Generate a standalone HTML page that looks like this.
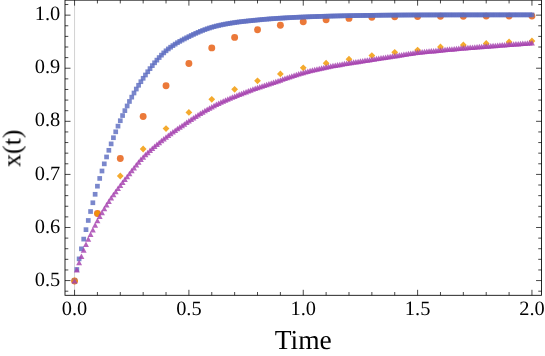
<!DOCTYPE html>
<html>
<head>
<meta charset="utf-8">
<title>x(t) vs Time</title>
<style>
html,body{margin:0;padding:0;background:#ffffff;}
body{width:545px;height:356px;overflow:hidden;position:relative;font-family:"Liberation Serif",serif;}
</style>
</head>
<body>
<svg width="545" height="356" viewBox="0 0 545 356" style="position:absolute;left:0;top:0;display:block">
<rect x="0" y="0" width="545" height="356" fill="#ffffff"/>
<line x1="74.55" y1="0.15" x2="74.55" y2="295.3" stroke="#d2d2d2" stroke-width="1"/>
<g fill="#e65c0e" fill-opacity="0.82"><circle cx="74.55" cy="281" r="3.45"/><circle cx="97.42" cy="213.5" r="3.45"/><circle cx="120.29" cy="158.5" r="3.45"/><circle cx="143.16" cy="116.5" r="3.45"/><circle cx="166.03" cy="85.7" r="3.45"/><circle cx="188.9" cy="63.5" r="3.45"/><circle cx="211.77" cy="47.9" r="3.45"/><circle cx="234.64" cy="37.4" r="3.45"/><circle cx="257.51" cy="29.8" r="3.45"/><circle cx="280.38" cy="25.3" r="3.45"/><circle cx="303.25" cy="21.7" r="3.45"/><circle cx="326.12" cy="19.8" r="3.45"/><circle cx="348.99" cy="18.4" r="3.45"/><circle cx="371.86" cy="17.3" r="3.45"/><circle cx="394.73" cy="16.8" r="3.45"/><circle cx="417.6" cy="16.5" r="3.45"/><circle cx="440.47" cy="16.3" r="3.45"/><circle cx="463.34" cy="16.2" r="3.45"/><circle cx="486.21" cy="16.1" r="3.45"/><circle cx="509.08" cy="16.1" r="3.45"/><circle cx="531.95" cy="16.1" r="3.45"/></g>
<g fill="#5d6dc1" fill-opacity="0.82"><rect x="72.2" y="278.65" width="4.7" height="4.7"/><rect x="74.49" y="267.13" width="4.7" height="4.7"/><rect x="76.77" y="256.53" width="4.7" height="4.7"/><rect x="79.06" y="246.47" width="4.7" height="4.7"/><rect x="81.35" y="236.75" width="4.7" height="4.7"/><rect x="83.64" y="227.3" width="4.7" height="4.7"/><rect x="85.92" y="218.12" width="4.7" height="4.7"/><rect x="88.21" y="209.16" width="4.7" height="4.7"/><rect x="90.5" y="200.41" width="4.7" height="4.7"/><rect x="92.78" y="191.95" width="4.7" height="4.7"/><rect x="95.07" y="183.84" width="4.7" height="4.7"/><rect x="97.36" y="176.09" width="4.7" height="4.7"/><rect x="99.64" y="168.65" width="4.7" height="4.7"/><rect x="101.93" y="161.5" width="4.7" height="4.7"/><rect x="104.22" y="154.61" width="4.7" height="4.7"/><rect x="106.5" y="147.96" width="4.7" height="4.7"/><rect x="108.79" y="141.54" width="4.7" height="4.7"/><rect x="111.08" y="135.37" width="4.7" height="4.7"/><rect x="113.37" y="129.45" width="4.7" height="4.7"/><rect x="115.65" y="123.78" width="4.7" height="4.7"/><rect x="117.94" y="118.36" width="4.7" height="4.7"/><rect x="120.23" y="113.2" width="4.7" height="4.7"/><rect x="122.51" y="108.29" width="4.7" height="4.7"/><rect x="124.8" y="103.61" width="4.7" height="4.7"/><rect x="127.09" y="99.12" width="4.7" height="4.7"/><rect x="129.38" y="94.8" width="4.7" height="4.7"/><rect x="131.66" y="90.65" width="4.7" height="4.7"/><rect x="133.95" y="86.69" width="4.7" height="4.7"/><rect x="136.24" y="82.93" width="4.7" height="4.7"/><rect x="138.52" y="79.35" width="4.7" height="4.7"/><rect x="140.81" y="75.94" width="4.7" height="4.7"/><rect x="143.1" y="72.64" width="4.7" height="4.7"/><rect x="145.38" y="69.4" width="4.7" height="4.7"/><rect x="147.67" y="66.27" width="4.7" height="4.7"/><rect x="149.96" y="63.27" width="4.7" height="4.7"/><rect x="152.24" y="60.45" width="4.7" height="4.7"/><rect x="154.53" y="57.78" width="4.7" height="4.7"/><rect x="156.82" y="55.22" width="4.7" height="4.7"/><rect x="159.11" y="52.8" width="4.7" height="4.7"/><rect x="161.39" y="50.54" width="4.7" height="4.7"/><rect x="163.68" y="48.46" width="4.7" height="4.7"/><rect x="165.97" y="46.58" width="4.7" height="4.7"/><rect x="168.25" y="44.86" width="4.7" height="4.7"/><rect x="170.54" y="43.27" width="4.7" height="4.7"/><rect x="172.83" y="41.78" width="4.7" height="4.7"/><rect x="175.11" y="40.35" width="4.7" height="4.7"/><rect x="177.4" y="39.01" width="4.7" height="4.7"/><rect x="179.69" y="37.76" width="4.7" height="4.7"/><rect x="181.98" y="36.58" width="4.7" height="4.7"/><rect x="184.26" y="35.43" width="4.7" height="4.7"/><rect x="186.55" y="34.28" width="4.7" height="4.7"/><rect x="188.84" y="33.14" width="4.7" height="4.7"/><rect x="191.12" y="32.05" width="4.7" height="4.7"/><rect x="193.41" y="30.99" width="4.7" height="4.7"/><rect x="195.7" y="29.98" width="4.7" height="4.7"/><rect x="197.99" y="29.01" width="4.7" height="4.7"/><rect x="200.27" y="28.1" width="4.7" height="4.7"/><rect x="202.56" y="27.23" width="4.7" height="4.7"/><rect x="204.85" y="26.41" width="4.7" height="4.7"/><rect x="207.13" y="25.65" width="4.7" height="4.7"/><rect x="209.42" y="24.94" width="4.7" height="4.7"/><rect x="211.71" y="24.29" width="4.7" height="4.7"/><rect x="213.99" y="23.7" width="4.7" height="4.7"/><rect x="216.28" y="23.15" width="4.7" height="4.7"/><rect x="218.57" y="22.64" width="4.7" height="4.7"/><rect x="220.85" y="22.17" width="4.7" height="4.7"/><rect x="223.14" y="21.73" width="4.7" height="4.7"/><rect x="225.43" y="21.32" width="4.7" height="4.7"/><rect x="227.72" y="20.93" width="4.7" height="4.7"/><rect x="230" y="20.57" width="4.7" height="4.7"/><rect x="232.29" y="20.21" width="4.7" height="4.7"/><rect x="234.58" y="19.88" width="4.7" height="4.7"/><rect x="236.86" y="19.58" width="4.7" height="4.7"/><rect x="239.15" y="19.3" width="4.7" height="4.7"/><rect x="241.44" y="19.04" width="4.7" height="4.7"/><rect x="243.72" y="18.79" width="4.7" height="4.7"/><rect x="246.01" y="18.55" width="4.7" height="4.7"/><rect x="248.3" y="18.32" width="4.7" height="4.7"/><rect x="250.59" y="18.1" width="4.7" height="4.7"/><rect x="252.87" y="17.87" width="4.7" height="4.7"/><rect x="255.16" y="17.64" width="4.7" height="4.7"/><rect x="257.45" y="17.42" width="4.7" height="4.7"/><rect x="259.73" y="17.2" width="4.7" height="4.7"/><rect x="262.02" y="17" width="4.7" height="4.7"/><rect x="264.31" y="16.8" width="4.7" height="4.7"/><rect x="266.59" y="16.62" width="4.7" height="4.7"/><rect x="268.88" y="16.44" width="4.7" height="4.7"/><rect x="271.17" y="16.28" width="4.7" height="4.7"/><rect x="273.46" y="16.12" width="4.7" height="4.7"/><rect x="275.74" y="15.97" width="4.7" height="4.7"/><rect x="278.03" y="15.83" width="4.7" height="4.7"/><rect x="280.32" y="15.7" width="4.7" height="4.7"/><rect x="282.6" y="15.56" width="4.7" height="4.7"/><rect x="284.89" y="15.43" width="4.7" height="4.7"/><rect x="287.18" y="15.31" width="4.7" height="4.7"/><rect x="289.46" y="15.19" width="4.7" height="4.7"/><rect x="291.75" y="15.07" width="4.7" height="4.7"/><rect x="294.04" y="14.96" width="4.7" height="4.7"/><rect x="296.33" y="14.86" width="4.7" height="4.7"/><rect x="298.61" y="14.76" width="4.7" height="4.7"/><rect x="300.9" y="14.66" width="4.7" height="4.7"/><rect x="303.19" y="14.57" width="4.7" height="4.7"/><rect x="305.47" y="14.48" width="4.7" height="4.7"/><rect x="307.76" y="14.39" width="4.7" height="4.7"/><rect x="310.05" y="14.31" width="4.7" height="4.7"/><rect x="312.33" y="14.23" width="4.7" height="4.7"/><rect x="314.62" y="14.16" width="4.7" height="4.7"/><rect x="316.91" y="14.08" width="4.7" height="4.7"/><rect x="319.2" y="14.01" width="4.7" height="4.7"/><rect x="321.48" y="13.94" width="4.7" height="4.7"/><rect x="323.77" y="13.88" width="4.7" height="4.7"/><rect x="326.06" y="13.81" width="4.7" height="4.7"/><rect x="328.34" y="13.75" width="4.7" height="4.7"/><rect x="330.63" y="13.69" width="4.7" height="4.7"/><rect x="332.92" y="13.64" width="4.7" height="4.7"/><rect x="335.2" y="13.58" width="4.7" height="4.7"/><rect x="337.49" y="13.53" width="4.7" height="4.7"/><rect x="339.78" y="13.48" width="4.7" height="4.7"/><rect x="342.07" y="13.43" width="4.7" height="4.7"/><rect x="344.35" y="13.39" width="4.7" height="4.7"/><rect x="346.64" y="13.35" width="4.7" height="4.7"/><rect x="348.93" y="13.31" width="4.7" height="4.7"/><rect x="351.21" y="13.27" width="4.7" height="4.7"/><rect x="353.5" y="13.23" width="4.7" height="4.7"/><rect x="355.79" y="13.19" width="4.7" height="4.7"/><rect x="358.07" y="13.16" width="4.7" height="4.7"/><rect x="360.36" y="13.12" width="4.7" height="4.7"/><rect x="362.65" y="13.09" width="4.7" height="4.7"/><rect x="364.94" y="13.06" width="4.7" height="4.7"/><rect x="367.22" y="13.02" width="4.7" height="4.7"/><rect x="369.51" y="12.99" width="4.7" height="4.7"/><rect x="371.8" y="12.96" width="4.7" height="4.7"/><rect x="374.08" y="12.93" width="4.7" height="4.7"/><rect x="376.37" y="12.91" width="4.7" height="4.7"/><rect x="378.66" y="12.88" width="4.7" height="4.7"/><rect x="380.94" y="12.85" width="4.7" height="4.7"/><rect x="383.23" y="12.83" width="4.7" height="4.7"/><rect x="385.52" y="12.81" width="4.7" height="4.7"/><rect x="387.81" y="12.78" width="4.7" height="4.7"/><rect x="390.09" y="12.76" width="4.7" height="4.7"/><rect x="392.38" y="12.74" width="4.7" height="4.7"/><rect x="394.67" y="12.72" width="4.7" height="4.7"/><rect x="396.95" y="12.71" width="4.7" height="4.7"/><rect x="399.24" y="12.69" width="4.7" height="4.7"/><rect x="401.53" y="12.67" width="4.7" height="4.7"/><rect x="403.81" y="12.66" width="4.7" height="4.7"/><rect x="406.1" y="12.65" width="4.7" height="4.7"/><rect x="408.39" y="12.64" width="4.7" height="4.7"/><rect x="410.68" y="12.63" width="4.7" height="4.7"/><rect x="412.96" y="12.62" width="4.7" height="4.7"/><rect x="415.25" y="12.61" width="4.7" height="4.7"/><rect x="417.54" y="12.61" width="4.7" height="4.7"/><rect x="419.82" y="12.6" width="4.7" height="4.7"/><rect x="422.11" y="12.6" width="4.7" height="4.7"/><rect x="424.4" y="12.59" width="4.7" height="4.7"/><rect x="426.69" y="12.59" width="4.7" height="4.7"/><rect x="428.97" y="12.58" width="4.7" height="4.7"/><rect x="431.26" y="12.58" width="4.7" height="4.7"/><rect x="433.55" y="12.57" width="4.7" height="4.7"/><rect x="435.83" y="12.57" width="4.7" height="4.7"/><rect x="438.12" y="12.57" width="4.7" height="4.7"/><rect x="440.41" y="12.56" width="4.7" height="4.7"/><rect x="442.69" y="12.56" width="4.7" height="4.7"/><rect x="444.98" y="12.56" width="4.7" height="4.7"/><rect x="447.27" y="12.55" width="4.7" height="4.7"/><rect x="449.55" y="12.55" width="4.7" height="4.7"/><rect x="451.84" y="12.55" width="4.7" height="4.7"/><rect x="454.13" y="12.55" width="4.7" height="4.7"/><rect x="456.42" y="12.54" width="4.7" height="4.7"/><rect x="458.7" y="12.54" width="4.7" height="4.7"/><rect x="460.99" y="12.54" width="4.7" height="4.7"/><rect x="463.28" y="12.54" width="4.7" height="4.7"/><rect x="465.56" y="12.54" width="4.7" height="4.7"/><rect x="467.85" y="12.53" width="4.7" height="4.7"/><rect x="470.14" y="12.53" width="4.7" height="4.7"/><rect x="472.42" y="12.53" width="4.7" height="4.7"/><rect x="474.71" y="12.53" width="4.7" height="4.7"/><rect x="477" y="12.53" width="4.7" height="4.7"/><rect x="479.29" y="12.53" width="4.7" height="4.7"/><rect x="481.57" y="12.52" width="4.7" height="4.7"/><rect x="483.86" y="12.52" width="4.7" height="4.7"/><rect x="486.15" y="12.52" width="4.7" height="4.7"/><rect x="488.43" y="12.52" width="4.7" height="4.7"/><rect x="490.72" y="12.52" width="4.7" height="4.7"/><rect x="493.01" y="12.52" width="4.7" height="4.7"/><rect x="495.3" y="12.52" width="4.7" height="4.7"/><rect x="497.58" y="12.52" width="4.7" height="4.7"/><rect x="499.87" y="12.52" width="4.7" height="4.7"/><rect x="502.16" y="12.51" width="4.7" height="4.7"/><rect x="504.44" y="12.51" width="4.7" height="4.7"/><rect x="506.73" y="12.51" width="4.7" height="4.7"/><rect x="509.02" y="12.51" width="4.7" height="4.7"/><rect x="511.3" y="12.51" width="4.7" height="4.7"/><rect x="513.59" y="12.51" width="4.7" height="4.7"/><rect x="515.88" y="12.51" width="4.7" height="4.7"/><rect x="518.16" y="12.51" width="4.7" height="4.7"/><rect x="520.45" y="12.51" width="4.7" height="4.7"/><rect x="522.74" y="12.51" width="4.7" height="4.7"/><rect x="525.03" y="12.51" width="4.7" height="4.7"/><rect x="527.31" y="12.51" width="4.7" height="4.7"/><rect x="529.6" y="12.51" width="4.7" height="4.7"/></g>
<path fill="#f19700" fill-opacity="0.82" d="M74.55 277.6l3.4 3.4l-3.4 3.4l-3.4 -3.4zM97.42 210.1l3.4 3.4l-3.4 3.4l-3.4 -3.4zM120.29 172.6l3.4 3.4l-3.4 3.4l-3.4 -3.4zM143.16 145.6l3.4 3.4l-3.4 3.4l-3.4 -3.4zM166.03 125.2l3.4 3.4l-3.4 3.4l-3.4 -3.4zM188.9 109l3.4 3.4l-3.4 3.4l-3.4 -3.4zM211.77 95.9l3.4 3.4l-3.4 3.4l-3.4 -3.4zM234.64 85.9l3.4 3.4l-3.4 3.4l-3.4 -3.4zM257.51 77.4l3.4 3.4l-3.4 3.4l-3.4 -3.4zM280.38 70.5l3.4 3.4l-3.4 3.4l-3.4 -3.4zM303.25 64.46l3.4 3.4l-3.4 3.4l-3.4 -3.4zM326.12 59.8l3.4 3.4l-3.4 3.4l-3.4 -3.4zM348.99 55.8l3.4 3.4l-3.4 3.4l-3.4 -3.4zM371.86 52.2l3.4 3.4l-3.4 3.4l-3.4 -3.4zM394.73 48.9l3.4 3.4l-3.4 3.4l-3.4 -3.4zM417.6 46.7l3.4 3.4l-3.4 3.4l-3.4 -3.4zM440.47 43.6l3.4 3.4l-3.4 3.4l-3.4 -3.4zM463.34 41.6l3.4 3.4l-3.4 3.4l-3.4 -3.4zM486.21 40l3.4 3.4l-3.4 3.4l-3.4 -3.4zM509.08 38.5l3.4 3.4l-3.4 3.4l-3.4 -3.4zM531.95 37.6l3.4 3.4l-3.4 3.4l-3.4 -3.4z"/>
<g fill="#a541af" fill-opacity="0.82"><path d="M74.55 278l2.95 5.5h-5.9z"/><path d="M76.84 267.1l2.95 5.5h-5.9z"/><path d="M79.12 259.8l2.95 5.5h-5.9z"/><path d="M81.41 253.4l2.95 5.5h-5.9z"/><path d="M83.7 247.2l2.95 5.5h-5.9z"/><path d="M85.98 241.6l2.95 5.5h-5.9z"/><path d="M88.27 236.3l2.95 5.5h-5.9z"/><path d="M90.56 231.6l2.95 5.5h-5.9z"/><path d="M92.85 227l2.95 5.5h-5.9z"/><path d="M95.13 222.2l2.95 5.5h-5.9z"/><path d="M97.42 217.7l2.95 5.5h-5.9z"/><path d="M99.71 213.5l2.95 5.5h-5.9z"/><path d="M101.99 209.72l2.95 5.5h-5.9z"/><path d="M104.28 205.84l2.95 5.5h-5.9z"/><path d="M106.57 201.96l2.95 5.5h-5.9z"/><path d="M108.85 198.39l2.95 5.5h-5.9z"/><path d="M111.14 195.06l2.95 5.5h-5.9z"/><path d="M113.43 191.83l2.95 5.5h-5.9z"/><path d="M115.72 188.7l2.95 5.5h-5.9z"/><path d="M118 185.61l2.95 5.5h-5.9z"/><path d="M120.29 182.55l2.95 5.5h-5.9z"/><path d="M122.58 179.52l2.95 5.5h-5.9z"/><path d="M124.86 176.55l2.95 5.5h-5.9z"/><path d="M127.15 173.64l2.95 5.5h-5.9z"/><path d="M129.44 170.74l2.95 5.5h-5.9z"/><path d="M131.72 167.81l2.95 5.5h-5.9z"/><path d="M134.01 164.89l2.95 5.5h-5.9z"/><path d="M136.3 162.02l2.95 5.5h-5.9z"/><path d="M138.59 159.25l2.95 5.5h-5.9z"/><path d="M140.87 156.61l2.95 5.5h-5.9z"/><path d="M143.16 154.15l2.95 5.5h-5.9z"/><path d="M145.45 151.84l2.95 5.5h-5.9z"/><path d="M147.73 149.63l2.95 5.5h-5.9z"/><path d="M150.02 147.5l2.95 5.5h-5.9z"/><path d="M152.31 145.44l2.95 5.5h-5.9z"/><path d="M154.59 143.45l2.95 5.5h-5.9z"/><path d="M156.88 141.52l2.95 5.5h-5.9z"/><path d="M159.17 139.63l2.95 5.5h-5.9z"/><path d="M161.46 137.79l2.95 5.5h-5.9z"/><path d="M163.74 135.98l2.95 5.5h-5.9z"/><path d="M166.03 134.19l2.95 5.5h-5.9z"/><path d="M168.32 132.43l2.95 5.5h-5.9z"/><path d="M170.6 130.72l2.95 5.5h-5.9z"/><path d="M172.89 129.04l2.95 5.5h-5.9z"/><path d="M175.18 127.41l2.95 5.5h-5.9z"/><path d="M177.46 125.8l2.95 5.5h-5.9z"/><path d="M179.75 124.23l2.95 5.5h-5.9z"/><path d="M182.04 122.67l2.95 5.5h-5.9z"/><path d="M184.33 121.13l2.95 5.5h-5.9z"/><path d="M186.61 119.61l2.95 5.5h-5.9z"/><path d="M188.9 118.1l2.95 5.5h-5.9z"/><path d="M191.19 116.59l2.95 5.5h-5.9z"/><path d="M193.47 115.08l2.95 5.5h-5.9z"/><path d="M195.76 113.57l2.95 5.5h-5.9z"/><path d="M198.05 112.09l2.95 5.5h-5.9z"/><path d="M200.34 110.62l2.95 5.5h-5.9z"/><path d="M202.62 109.19l2.95 5.5h-5.9z"/><path d="M204.91 107.79l2.95 5.5h-5.9z"/><path d="M207.2 106.44l2.95 5.5h-5.9z"/><path d="M209.48 105.13l2.95 5.5h-5.9z"/><path d="M211.77 103.89l2.95 5.5h-5.9z"/><path d="M214.06 102.71l2.95 5.5h-5.9z"/><path d="M216.34 101.56l2.95 5.5h-5.9z"/><path d="M218.63 100.44l2.95 5.5h-5.9z"/><path d="M220.92 99.36l2.95 5.5h-5.9z"/><path d="M223.2 98.31l2.95 5.5h-5.9z"/><path d="M225.49 97.28l2.95 5.5h-5.9z"/><path d="M227.78 96.28l2.95 5.5h-5.9z"/><path d="M230.07 95.3l2.95 5.5h-5.9z"/><path d="M232.35 94.33l2.95 5.5h-5.9z"/><path d="M234.64 93.38l2.95 5.5h-5.9z"/><path d="M236.93 92.44l2.95 5.5h-5.9z"/><path d="M239.21 91.52l2.95 5.5h-5.9z"/><path d="M241.5 90.63l2.95 5.5h-5.9z"/><path d="M243.79 89.75l2.95 5.5h-5.9z"/><path d="M246.07 88.88l2.95 5.5h-5.9z"/><path d="M248.36 88.03l2.95 5.5h-5.9z"/><path d="M250.65 87.2l2.95 5.5h-5.9z"/><path d="M252.94 86.37l2.95 5.5h-5.9z"/><path d="M255.22 85.56l2.95 5.5h-5.9z"/><path d="M257.51 84.75l2.95 5.5h-5.9z"/><path d="M259.8 83.95l2.95 5.5h-5.9z"/><path d="M262.08 83.17l2.95 5.5h-5.9z"/><path d="M264.37 82.4l2.95 5.5h-5.9z"/><path d="M266.66 81.64l2.95 5.5h-5.9z"/><path d="M268.94 80.89l2.95 5.5h-5.9z"/><path d="M271.23 80.14l2.95 5.5h-5.9z"/><path d="M273.52 79.4l2.95 5.5h-5.9z"/><path d="M275.81 78.65l2.95 5.5h-5.9z"/><path d="M278.09 77.9l2.95 5.5h-5.9z"/><path d="M280.38 77.14l2.95 5.5h-5.9z"/><path d="M282.67 76.37l2.95 5.5h-5.9z"/><path d="M284.95 75.59l2.95 5.5h-5.9z"/><path d="M287.24 74.81l2.95 5.5h-5.9z"/><path d="M289.53 74.02l2.95 5.5h-5.9z"/><path d="M291.81 73.24l2.95 5.5h-5.9z"/><path d="M294.1 72.47l2.95 5.5h-5.9z"/><path d="M296.39 71.72l2.95 5.5h-5.9z"/><path d="M298.68 70.99l2.95 5.5h-5.9z"/><path d="M300.96 70.3l2.95 5.5h-5.9z"/><path d="M303.25 69.65l2.95 5.5h-5.9z"/><path d="M305.54 69.03l2.95 5.5h-5.9z"/><path d="M307.82 68.42l2.95 5.5h-5.9z"/><path d="M310.11 67.83l2.95 5.5h-5.9z"/><path d="M312.4 67.26l2.95 5.5h-5.9z"/><path d="M314.69 66.7l2.95 5.5h-5.9z"/><path d="M316.97 66.16l2.95 5.5h-5.9z"/><path d="M319.26 65.64l2.95 5.5h-5.9z"/><path d="M321.55 65.13l2.95 5.5h-5.9z"/><path d="M323.83 64.64l2.95 5.5h-5.9z"/><path d="M326.12 64.17l2.95 5.5h-5.9z"/><path d="M328.41 63.71l2.95 5.5h-5.9z"/><path d="M330.69 63.27l2.95 5.5h-5.9z"/><path d="M332.98 62.84l2.95 5.5h-5.9z"/><path d="M335.27 62.43l2.95 5.5h-5.9z"/><path d="M337.55 62.03l2.95 5.5h-5.9z"/><path d="M339.84 61.64l2.95 5.5h-5.9z"/><path d="M342.13 61.25l2.95 5.5h-5.9z"/><path d="M344.42 60.87l2.95 5.5h-5.9z"/><path d="M346.7 60.49l2.95 5.5h-5.9z"/><path d="M348.99 60.11l2.95 5.5h-5.9z"/><path d="M351.28 59.73l2.95 5.5h-5.9z"/><path d="M353.56 59.37l2.95 5.5h-5.9z"/><path d="M355.85 59.01l2.95 5.5h-5.9z"/><path d="M358.14 58.65l2.95 5.5h-5.9z"/><path d="M360.43 58.3l2.95 5.5h-5.9z"/><path d="M362.71 57.95l2.95 5.5h-5.9z"/><path d="M365 57.6l2.95 5.5h-5.9z"/><path d="M367.29 57.26l2.95 5.5h-5.9z"/><path d="M369.57 56.9l2.95 5.5h-5.9z"/><path d="M371.86 56.55l2.95 5.5h-5.9z"/><path d="M374.15 56.19l2.95 5.5h-5.9z"/><path d="M376.43 55.83l2.95 5.5h-5.9z"/><path d="M378.72 55.48l2.95 5.5h-5.9z"/><path d="M381.01 55.12l2.95 5.5h-5.9z"/><path d="M383.3 54.76l2.95 5.5h-5.9z"/><path d="M385.58 54.4l2.95 5.5h-5.9z"/><path d="M387.87 54.05l2.95 5.5h-5.9z"/><path d="M390.16 53.69l2.95 5.5h-5.9z"/><path d="M392.44 53.34l2.95 5.5h-5.9z"/><path d="M394.73 52.99l2.95 5.5h-5.9z"/><path d="M397.02 52.64l2.95 5.5h-5.9z"/><path d="M399.3 52.28l2.95 5.5h-5.9z"/><path d="M401.59 51.92l2.95 5.5h-5.9z"/><path d="M403.88 51.55l2.95 5.5h-5.9z"/><path d="M406.16 51.2l2.95 5.5h-5.9z"/><path d="M408.45 50.85l2.95 5.5h-5.9z"/><path d="M410.74 50.5l2.95 5.5h-5.9z"/><path d="M413.03 50.18l2.95 5.5h-5.9z"/><path d="M415.31 49.87l2.95 5.5h-5.9z"/><path d="M417.6 49.58l2.95 5.5h-5.9z"/><path d="M419.89 49.31l2.95 5.5h-5.9z"/><path d="M422.17 49.06l2.95 5.5h-5.9z"/><path d="M424.46 48.81l2.95 5.5h-5.9z"/><path d="M426.75 48.58l2.95 5.5h-5.9z"/><path d="M429.04 48.35l2.95 5.5h-5.9z"/><path d="M431.32 48.12l2.95 5.5h-5.9z"/><path d="M433.61 47.91l2.95 5.5h-5.9z"/><path d="M435.9 47.69l2.95 5.5h-5.9z"/><path d="M438.18 47.47l2.95 5.5h-5.9z"/><path d="M440.47 47.25l2.95 5.5h-5.9z"/><path d="M442.76 47.03l2.95 5.5h-5.9z"/><path d="M445.04 46.81l2.95 5.5h-5.9z"/><path d="M447.33 46.59l2.95 5.5h-5.9z"/><path d="M449.62 46.37l2.95 5.5h-5.9z"/><path d="M451.9 46.15l2.95 5.5h-5.9z"/><path d="M454.19 45.94l2.95 5.5h-5.9z"/><path d="M456.48 45.73l2.95 5.5h-5.9z"/><path d="M458.77 45.52l2.95 5.5h-5.9z"/><path d="M461.05 45.32l2.95 5.5h-5.9z"/><path d="M463.34 45.12l2.95 5.5h-5.9z"/><path d="M465.63 44.93l2.95 5.5h-5.9z"/><path d="M467.91 44.74l2.95 5.5h-5.9z"/><path d="M470.2 44.56l2.95 5.5h-5.9z"/><path d="M472.49 44.38l2.95 5.5h-5.9z"/><path d="M474.77 44.21l2.95 5.5h-5.9z"/><path d="M477.06 44.03l2.95 5.5h-5.9z"/><path d="M479.35 43.86l2.95 5.5h-5.9z"/><path d="M481.64 43.69l2.95 5.5h-5.9z"/><path d="M483.92 43.51l2.95 5.5h-5.9z"/><path d="M486.21 43.34l2.95 5.5h-5.9z"/><path d="M488.5 43.16l2.95 5.5h-5.9z"/><path d="M490.78 42.99l2.95 5.5h-5.9z"/><path d="M493.07 42.81l2.95 5.5h-5.9z"/><path d="M495.36 42.64l2.95 5.5h-5.9z"/><path d="M497.65 42.47l2.95 5.5h-5.9z"/><path d="M499.93 42.29l2.95 5.5h-5.9z"/><path d="M502.22 42.12l2.95 5.5h-5.9z"/><path d="M504.51 41.95l2.95 5.5h-5.9z"/><path d="M506.79 41.78l2.95 5.5h-5.9z"/><path d="M509.08 41.61l2.95 5.5h-5.9z"/><path d="M511.37 41.44l2.95 5.5h-5.9z"/><path d="M513.65 41.27l2.95 5.5h-5.9z"/><path d="M515.94 41.11l2.95 5.5h-5.9z"/><path d="M518.23 40.94l2.95 5.5h-5.9z"/><path d="M520.51 40.77l2.95 5.5h-5.9z"/><path d="M522.8 40.61l2.95 5.5h-5.9z"/><path d="M525.09 40.44l2.95 5.5h-5.9z"/><path d="M527.38 40.28l2.95 5.5h-5.9z"/><path d="M529.66 40.11l2.95 5.5h-5.9z"/><path d="M531.95 39.95l2.95 5.5h-5.9z"/></g>
<path fill="none" stroke="#333333" stroke-width="0.9" d="M74.55 295.3v-5.5M74.55 0.15v5.5M97.42 295.3v-3.3M97.42 0.15v3.3M120.29 295.3v-3.3M120.29 0.15v3.3M143.16 295.3v-3.3M143.16 0.15v3.3M166.03 295.3v-3.3M166.03 0.15v3.3M188.9 295.3v-5.5M188.9 0.15v5.5M211.77 295.3v-3.3M211.77 0.15v3.3M234.64 295.3v-3.3M234.64 0.15v3.3M257.51 295.3v-3.3M257.51 0.15v3.3M280.38 295.3v-3.3M280.38 0.15v3.3M303.25 295.3v-5.5M303.25 0.15v5.5M326.12 295.3v-3.3M326.12 0.15v3.3M348.99 295.3v-3.3M348.99 0.15v3.3M371.86 295.3v-3.3M371.86 0.15v3.3M394.73 295.3v-3.3M394.73 0.15v3.3M417.6 295.3v-5.5M417.6 0.15v5.5M440.47 295.3v-3.3M440.47 0.15v3.3M463.34 295.3v-3.3M463.34 0.15v3.3M486.21 295.3v-3.3M486.21 0.15v3.3M509.08 295.3v-3.3M509.08 0.15v3.3M531.95 295.3v-5.5M531.95 0.15v5.5M65.0 291.19h3.3M541.55 291.19h-3.3M65.0 280.57h5.5M541.55 280.57h-5.5M65.0 269.96h3.3M541.55 269.96h-3.3M65.0 259.34h3.3M541.55 259.34h-3.3M65.0 248.72h3.3M541.55 248.72h-3.3M65.0 238.11h3.3M541.55 238.11h-3.3M65.0 227.49h5.5M541.55 227.49h-5.5M65.0 216.87h3.3M541.55 216.87h-3.3M65.0 206.26h3.3M541.55 206.26h-3.3M65.0 195.64h3.3M541.55 195.64h-3.3M65.0 185.02h3.3M541.55 185.02h-3.3M65.0 174.41h5.5M541.55 174.41h-5.5M65.0 163.79h3.3M541.55 163.79h-3.3M65.0 153.17h3.3M541.55 153.17h-3.3M65.0 142.55h3.3M541.55 142.55h-3.3M65.0 131.94h3.3M541.55 131.94h-3.3M65.0 121.32h5.5M541.55 121.32h-5.5M65.0 110.7h3.3M541.55 110.7h-3.3M65.0 100.09h3.3M541.55 100.09h-3.3M65.0 89.47h3.3M541.55 89.47h-3.3M65.0 78.85h3.3M541.55 78.85h-3.3M65.0 68.23h5.5M541.55 68.23h-5.5M65.0 57.62h3.3M541.55 57.62h-3.3M65.0 47h3.3M541.55 47h-3.3M65.0 36.38h3.3M541.55 36.38h-3.3M65.0 25.77h3.3M541.55 25.77h-3.3M65.0 15.15h5.5M541.55 15.15h-5.5M65.0 4.53h3.3M541.55 4.53h-3.3"/>
<rect x="65.0" y="0.15" width="476.55" height="295.15" fill="none" stroke="#000000" stroke-width="0.85"/>
<g font-family="Liberation Serif, serif" fill="#000000" text-rendering="geometricPrecision" opacity="0.999"><text x="74.55" y="315" text-anchor="middle" font-size="20.4">0.0</text><text x="188.9" y="315" text-anchor="middle" font-size="20.4">0.5</text><text x="303.25" y="315" text-anchor="middle" font-size="20.4">1.0</text><text x="417.6" y="315" text-anchor="middle" font-size="20.4">1.5</text><text x="531.95" y="315" text-anchor="middle" font-size="20.4">2.0</text><text x="60.3" y="285.68" text-anchor="end" font-size="20.4">0.5</text><text x="60.3" y="232.59" text-anchor="end" font-size="20.4">0.6</text><text x="60.3" y="179.51" text-anchor="end" font-size="20.4">0.7</text><text x="60.3" y="126.42" text-anchor="end" font-size="20.4">0.8</text><text x="60.3" y="73.33" text-anchor="end" font-size="20.4">0.9</text><text x="60.3" y="20.25" text-anchor="end" font-size="20.4">1.0</text><text x="303.3" y="349" text-anchor="middle" font-size="27.5">Time</text><text transform="translate(20.4 148.3) rotate(-90)" text-anchor="middle" font-size="26">x(t)</text></g>
</svg>
</body>
</html>
